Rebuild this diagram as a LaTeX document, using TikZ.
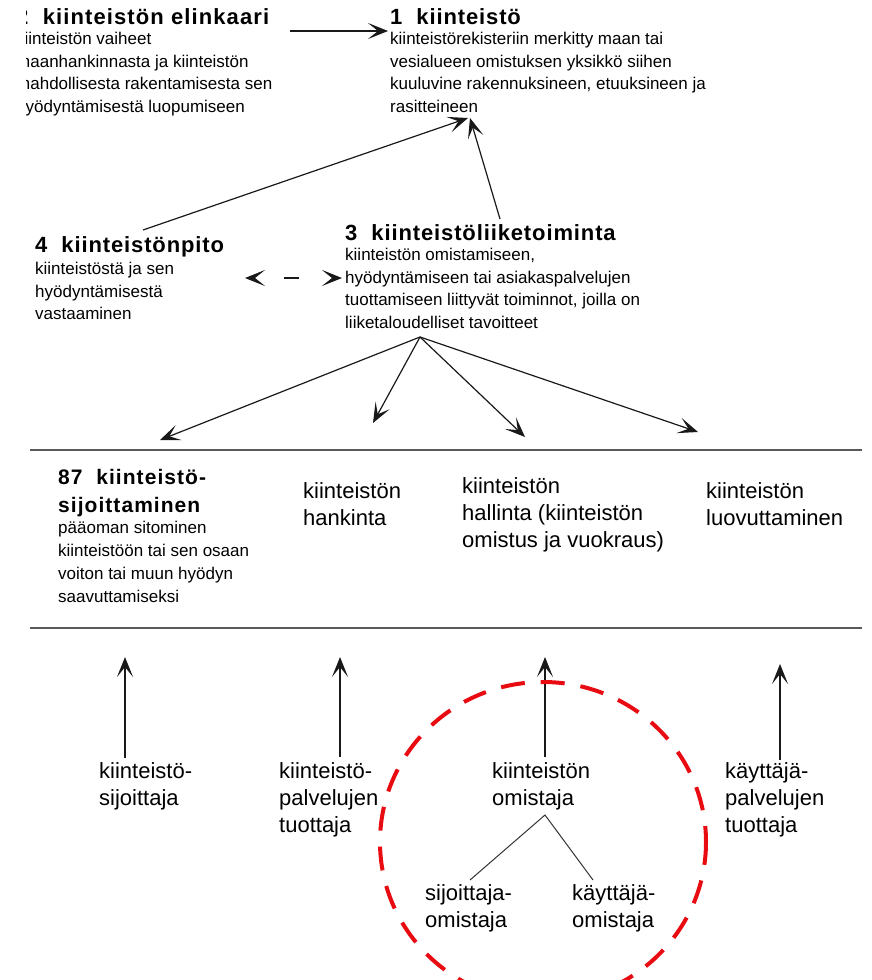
\documentclass[tikz,border=0pt]{standalone}
\usepackage{fontspec}
\setmainfont{Liberation Sans}
\usetikzlibrary{arrows.meta,positioning}

\definecolor{punainen}{RGB}{232,12,18}

\begin{document}
\begin{tikzpicture}[x=1pt, y=-1pt,
    otsikko/.style={font=\bfseries\fontsize{22}{28}\selectfont\addfontfeatures{LetterSpace=4}, inner sep=0pt, anchor=north west, align=left},
    selite/.style={font=\fontsize{17}{22.5}\selectfont, inner sep=0pt, anchor=north west, align=left},
    vaihe/.style={font=\fontsize{22}{27}\selectfont, inner sep=0pt, anchor=north west, align=left},
    karki/.tip={Stealth[length=20pt, width=16pt, inset=10pt]},
    nuoli/.style={-karki, line width=1.2pt, black!90},
    raja/.style={line width=1.5pt, black!65},
    rengas/.style={draw=punainen, line width=4pt, dash pattern=on 24pt off 16pt, dash phase=8pt}]
    \clip (0,0) rectangle (871,980);

    %%ylaosa
    \begin{scope}
        \clip (26,0) rectangle (300,130);
        \node[otsikko, font=\bfseries\fontsize{22}{28}\selectfont\addfontfeatures{LetterSpace=5}] (elinkaari) at (16,8) {2\ \ kiinteistön elinkaari};
        \node[selite] (elinkaariteksti) at (16,32) {kiinteistön vaiheet\\maanhankinnasta ja kiinteistön\\mahdollisesta rakentamisesta sen\\hyödyntämisestä luopumiseen};
    \end{scope}
    \node[otsikko] (kiinteisto) at (390,8) {1\ \ kiinteistö};
    \node[selite] (kiinteistoteksti) at (390,32) {kiinteistörekisteriin merkitty maan tai\\vesialueen omistuksen yksikkö siihen\\kuuluvine rakennuksineen, etuuksineen ja\\rasitteineen};

    \node[otsikko] (pito) at (35,236) {4\ \ kiinteistönpito};
    \node[selite] (pitoteksti) at (35,262) {kiinteistöstä ja sen\\hyödyntämisestä\\vastaaminen};
    \node[otsikko] (liiketoiminta) at (345,224) {3\ \ kiinteistöliiketoiminta};
    \node[selite] (liiketoimintateksti) at (345,248) {kiinteistön omistamiseen,\\hyödyntämiseen tai asiakaspalvelujen\\tuottamiseen liittyvät toiminnot, joilla on\\liiketaloudelliset tavoitteet};

    \coordinate (elinkaarinuoli) at (290,31);
    \coordinate (kiinteistonuoli) at (388,31);
    \coordinate (kiinteistokarki) at (468,118);
    \coordinate (pitonuoli) at (143,230);
    \coordinate (liiketoimintanuoli) at (500,219);
    \coordinate (pitokarki) at (245,278);
    \coordinate (liiketoimintakarki) at (342,278);
    \coordinate (haara) at (420,337);

    \draw[nuoli] (elinkaarinuoli) -- (kiinteistonuoli);
    \draw[nuoli] (pitonuoli) -- (kiinteistokarki);
    \draw[nuoli] (liiketoimintanuoli) -- ([xshift=2pt]kiinteistokarki);
    \draw[nuoli, karki-karki, dash pattern=on 0pt off 30pt on 15pt off 200pt] (pitokarki) -- (liiketoimintakarki);

    %%keskiosa
    \coordinate (raja1v) at (30,450);
    \coordinate (raja1o) at (862,450);
    \coordinate (raja2v) at (30,628);
    \coordinate (raja2o) at (862,628);
    \draw[raja] (raja1v) -- (raja1o);
    \draw[raja] (raja2v) -- (raja2o);

    \node[otsikko, font=\bfseries\fontsize{21}{28}\selectfont\addfontfeatures{LetterSpace=5}] (sijoittaminen) at (58,469) {87\ \ kiinteistö-\\sijoittaminen};
    \node[selite, font=\fontsize{17}{23}\selectfont] (sijoittaminenteksti) at (58,521) {pääoman sitominen\\kiinteistöön tai sen osaan\\voiton tai muun hyödyn\\saavuttamiseksi};
    \node[vaihe] (hankinta) at (303,482) {kiinteistön\\hankinta};
    \node[vaihe] (hallinta) at (462,477) {kiinteistön\\hallinta (kiinteistön\\omistus ja vuokraus)};
    \node[vaihe] (luovutus) at (706,482) {kiinteistön\\luovuttaminen};

    \coordinate (sijoittaminenkarki) at (160,440);
    \coordinate (hankintakarki) at (373,423);
    \coordinate (hallintakarki) at (525,437);
    \coordinate (luovutuskarki) at (698,432);
    \foreach \k in {sijoittaminenkarki, hankintakarki, hallintakarki, luovutuskarki}
        \draw[nuoli] (haara) -- (\k);

    %%alaosa
    \node[vaihe] (sijoittaja) at (99,762) {kiinteistö-\\sijoittaja};
    \node[vaihe] (palvelu) at (279,762) {kiinteistö-\\palvelujen\\tuottaja};
    \node[vaihe] (omistaja) at (492,762) {kiinteistön\\omistaja};
    \node[vaihe] (kayttajapalvelu) at (725,762) {käyttäjä-\\palvelujen\\tuottaja};
    \node[vaihe] (sijoittajaomistaja) at (425,884) {sijoittaja-\\omistaja};
    \node[vaihe] (kayttajaomistaja) at (572,884) {käyttäjä-\\omistaja};

    \coordinate (sijoittajakanta) at (125,758);
    \coordinate (sijoittajakarki) at (125,657);
    \coordinate (palvelukanta) at (340,757);
    \coordinate (palvelukarki) at (340,657);
    \coordinate (omistajakanta) at (545,757);
    \coordinate (omistajakarki) at (545,657);
    \coordinate (kayttajakanta) at (780,760);
    \coordinate (kayttajakarki) at (780,664);
    \draw[nuoli] (sijoittajakanta) -- (sijoittajakarki);
    \draw[nuoli] (palvelukanta) -- (palvelukarki);
    \draw[nuoli] (omistajakanta) -- (omistajakarki);
    \draw[nuoli] (kayttajakanta) -- (kayttajakarki);

    \coordinate (jako) at (545,815);
    \coordinate (jakovasen) at (470,880);
    \coordinate (jakooikea) at (593,880);
    \draw[line width=1pt, black!80] (jakovasen) -- (jako) -- (jakooikea);

    \draw[rengas] (543,842) ellipse [x radius=163pt, y radius=160pt];
\end{tikzpicture}
\end{document}
